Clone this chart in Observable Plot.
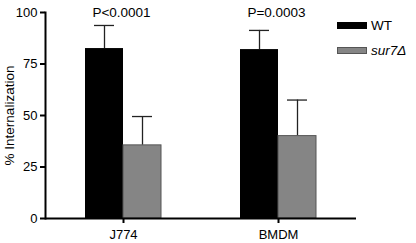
<!DOCTYPE html>
<html>
<head>
<meta charset="utf-8">
<script src="https://cdn.jsdelivr.net/npm/d3@7"></script>
<script src="https://cdn.jsdelivr.net/npm/@observablehq/plot@0.6"></script>
<style>
  html, body { margin: 0; padding: 0; background: #fff; }
  #wrap { position: relative; width: 416px; height: 243px; font-family: "Liberation Sans", Arial, sans-serif; }
  #legend { position: absolute; left: 337px; top: 17px; font-size: 13.5px; color: #000; }
  .row { display: flex; align-items: center; height: 16px; margin-bottom: 9px; }
  .sw { width: 30px; height: 7px; margin-right: 4px; box-sizing: border-box; }
</style>
</head>
<body>
<div id="wrap"><div id="legend"></div></div>
<script>
const categories = ["J774", "BMDM"];
const series = ["WT", "sur7Δ"];
const wtValues = [82.5, 82];
const wtErrors = [11.2, 9.3];
const sur7Values = [35.5, 40];
const sur7Errors = [14, 17.5];
const pValues = ["P<0.0001", "P=0.0003"];
const yTicks = [0, 25, 50, 75, 100];
const yLabel = "% Internalization";
const colors = ["#000000", "#858585"];

const wt = categories.map((c, i) => ({group: c, series: series[0], value: wtValues[i], err: wtErrors[i]}));
const su = categories.map((c, i) => ({group: c, series: series[1], value: sur7Values[i], err: sur7Errors[i]}));
const pData = categories.map((c, i) => ({group: c, label: pValues[i]}));

const chart = Plot.plot({
  width: 416,
  height: 243,
  marginLeft: 45,
  marginRight: 60,
  marginTop: 12,
  marginBottom: 25,
  style: {fontFamily: "Liberation Sans, Arial, sans-serif", background: "#fff", color: "#000"},
  x: {domain: categories, paddingInner: 0.51, paddingOuter: 0.255, label: null},
  y: {domain: [0, 100], ticks: yTicks, label: null},
  marks: [
    Plot.ruleX(wt, {x: "group", y1: "value", y2: d => d.value + d.err, dx: -19, stroke: "#222", strokeWidth: 1.3}),
    Plot.tickY(wt, {x: "group", y: d => d.value + d.err, insetLeft: 9, insetRight: 47, stroke: "#222", strokeWidth: 1.3}),
    Plot.ruleX(su, {x: "group", y1: "value", y2: d => d.value + d.err, dx: 19, stroke: "#222", strokeWidth: 1.3}),
    Plot.tickY(su, {x: "group", y: d => d.value + d.err, insetLeft: 47, insetRight: 9, stroke: "#222", strokeWidth: 1.3}),
    Plot.barY(wt, {x: "group", y: "value", insetRight: 38, fill: colors[0]}),
    Plot.barY(su, {x: "group", y: "value", insetLeft: 38, fill: colors[1], stroke: "#555", strokeWidth: 1}),
    Plot.text(pData, {x: "group", text: "label", frameAnchor: "top", lineAnchor: "middle", dx: -2, dy: 0, fontSize: 13.5}),
    Plot.ruleY([0], {stroke: "#000", strokeWidth: 2}),
    Plot.frame({anchor: "left", stroke: "#000", strokeWidth: 2}),
    Plot.axisY({ticks: yTicks, tickSize: 5, tickPadding: 3, fontSize: 13, strokeWidth: 2, label: null}),
    Plot.text([yLabel], {frameAnchor: "left", textAnchor: "middle", rotate: -90, dx: -36, fontSize: 13.5}),
    Plot.axisX({tickSize: 5, tickPadding: 6, fontSize: 13, strokeWidth: 2, label: null})
  ]
});
const wrap = document.getElementById("wrap");
wrap.insertBefore(chart, wrap.firstChild);
chart.querySelectorAll("text").forEach(t => t.setAttribute("fill", "#000"));

const legend = document.getElementById("legend");
series.forEach((s, i) => {
  const row = document.createElement("div");
  row.className = "row";
  const sw = document.createElement("div");
  sw.className = "sw";
  sw.style.background = colors[i];
  if (i === 1) sw.style.border = "1px solid #555";
  const lab = document.createElement("span");
  lab.textContent = s;
  if (i === 1) lab.style.fontStyle = "italic";
  row.appendChild(sw);
  row.appendChild(lab);
  legend.appendChild(row);
});
</script>
</body>
</html>
